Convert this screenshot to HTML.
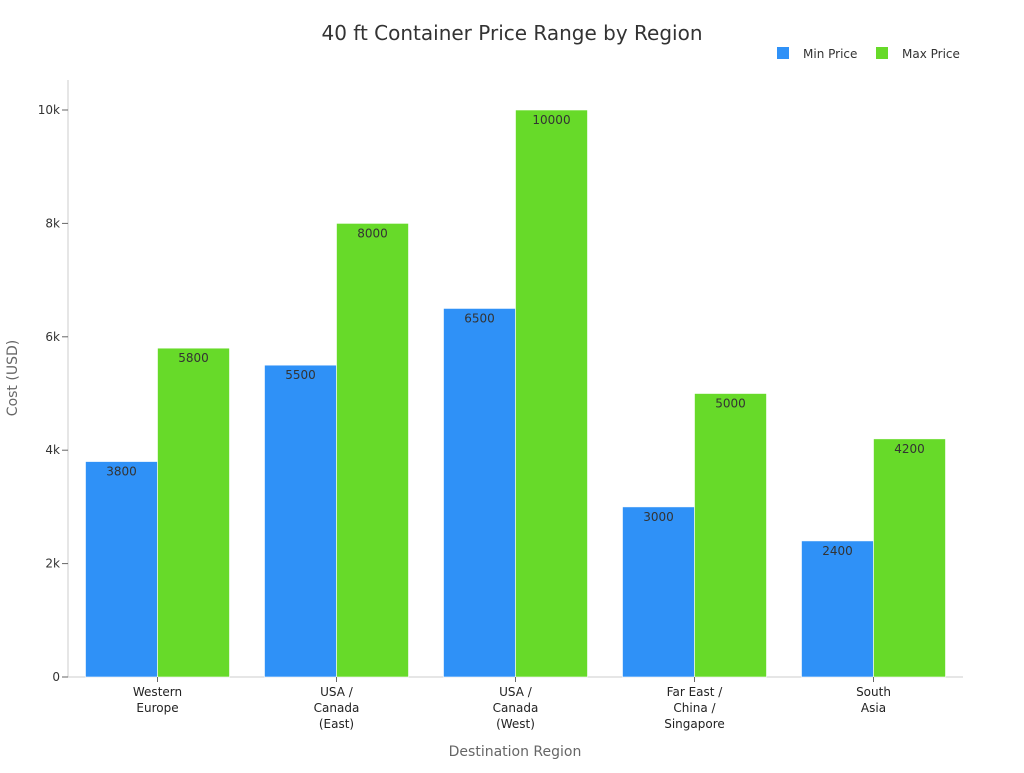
<!DOCTYPE html>
<html><head><meta charset="utf-8"><style>
body{margin:0;background:#fff;font-family:"Liberation Sans","DejaVu Sans",sans-serif;}
svg text{font-family:"DejaVu Sans","Liberation Sans",sans-serif;}
</style></head><body>
<svg id="chart" width="1024" height="768">
<text x="512" y="40" text-anchor="middle" font-size="20" fill="#333">40 ft Container Price Range by Region</text>
<g>
<rect x="777" y="47" width="12" height="12" fill="#2f91f7"/>
<text x="803" y="58" font-size="12" fill="#333">Min Price</text>
<rect x="876" y="47" width="12" height="12" fill="#67da29"/>
<text x="902" y="58" font-size="12" fill="#333">Max Price</text>
</g>
<text transform="translate(17,378) rotate(-90)" text-anchor="middle" font-size="14" fill="#666">Cost (USD)</text>
<text x="515" y="756" text-anchor="middle" font-size="14" fill="#666">Destination Region</text>
<g id="plot"></g>
</svg>
<script>
const categories=[["Western","Europe"],["USA /","Canada","(East)"],["USA /","Canada","(West)"],["Far East /","China /","Singapore"],["South","Asia"]];
const minPrice=[3800,5500,6500,3000,2400];
const maxPrice=[5800,8000,10000,5000,4200];
const yTicks=[0,2000,4000,6000,8000,10000];
const yTickLabels=["0","2k","4k","6k","8k","10k"];
const NS="http://www.w3.org/2000/svg";
const g=document.getElementById('plot');
const x0=68,x1=963,yBase=677,yTop=110;
const y=v=>yBase-(v/10000)*(yBase-yTop);
const band=(x1-x0)/categories.length;
function el(t,a){const e=document.createElementNS(NS,t);for(const k in a)e.setAttribute(k,a[k]);g.appendChild(e);return e;}
let ax=el('line',{x1:x0,y1:80,x2:x0,y2:yBase,stroke:'#ccc'});


let bx=el('line',{x1:x0,y1:yBase,x2:x1,y2:yBase,stroke:'#ccc'});


yTicks.forEach((v,i)=>{
 const tk=el('line',{x1:x0-6,x2:x0,y1:y(v),y2:y(v),stroke:'#666'});
 
 
 const t=el('text',{x:x0-8,y:y(v)+4,'text-anchor':'end','font-size':12,fill:'#333'});
 t.textContent=yTickLabels[i];
 
 
});
const pad=17.5,bw=(band-2*pad)/2;
categories.forEach((c,i)=>{
 const bx0=x0+i*band+pad;
 [[minPrice[i],'#2f91f7','min'],[maxPrice[i],'#67da29','max']].forEach(([v,col,s],j)=>{
  const xx=bx0+j*bw;
  const r=el('rect',{x:xx,y:y(v),width:bw,height:yBase-y(v),fill:col,stroke:'#fff','stroke-width':0.6});
  
  
  const t=el('text',{x:xx+bw/2,y:y(v)+14,'text-anchor':'middle','font-size':12,fill:'#333'});
  t.textContent=v;
  
  
 });
 const cx=x0+i*band+band/2;
 const tk=el('line',{x1:cx,x2:cx,y1:yBase,y2:yBase+5,stroke:'#666'});
 
 
 c.forEach((ln,k)=>{
  const t=el('text',{x:cx,y:yBase+19+k*16,'text-anchor':'middle','font-size':12,fill:'#222'});
  t.textContent=ln;
  
  
 });
});
</script>
</body></html>
